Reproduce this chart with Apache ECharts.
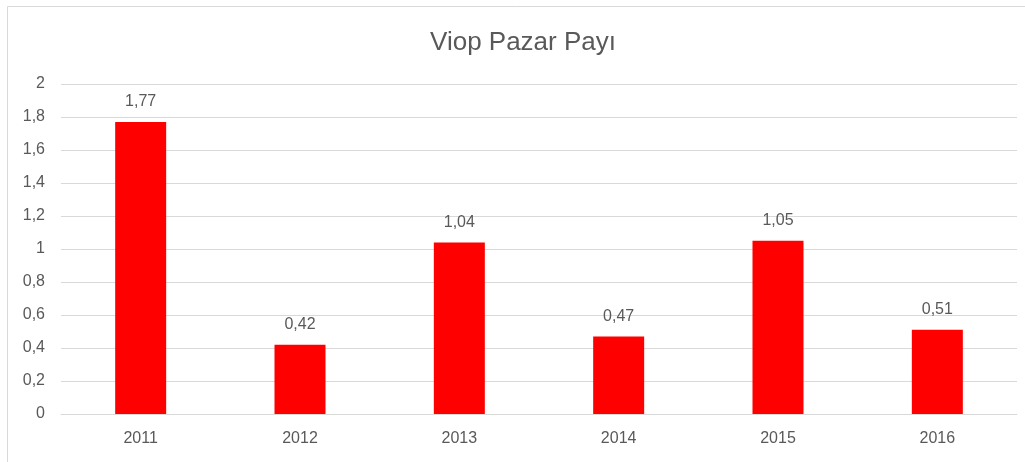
<!DOCTYPE html>
<html><head><meta charset="utf-8">
<script src="https://cdn.jsdelivr.net/npm/echarts@6/dist/echarts.min.js"></script>
<style>html,body{margin:0;padding:0;background:#fff}#c{width:1025px;height:462px}</style>
</head><body><div id="c"></div>
<script>
const title = "Viop Pazar Payı";
const categories = ["2011","2012","2013","2014","2015","2016"];
const values = [1.77, 0.42, 1.04, 0.47, 1.05, 0.51];
const yMin = 0, yMax = 2, yStep = 0.2;
const fmt = v => String(Math.round(v*100)/100).replace('.', ',');
const chart = echarts.init(document.getElementById('c'));
chart.setOption({
  animation:false,
  title:{text:title,left:518,top:25,textAlign:'center',textStyle:{fontFamily:'Liberation Sans',fontSize:26,fontWeight:'normal',color:'#595959'}},
  graphic:[
    {type:'line',shape:{x1:7.5,y1:6.5,x2:1025,y2:6.5},style:{stroke:'#d9d9d9',lineWidth:1}},
    {type:'line',shape:{x1:7.5,y1:6.5,x2:7.5,y2:462},style:{stroke:'#d9d9d9',lineWidth:1}}
  ],
  grid:{left:61,right:8,top:84,bottom:48,containLabel:false},
  xAxis:{type:'category',data:categories,
    axisLine:{lineStyle:{color:'#d9d9d9'}},axisTick:{show:false},
    axisLabel:{color:'#595959',fontFamily:'Liberation Sans',fontSize:16,margin:17}},
  yAxis:{type:'value',min:yMin,max:yMax,interval:yStep,
    axisLine:{show:false},axisTick:{show:false},
    splitLine:{lineStyle:{color:'#d9d9d9'}},
    axisLabel:{color:'#595959',fontFamily:'Liberation Sans',fontSize:16,margin:16,formatter:fmt}},
  series:[{type:'bar',data:values,barWidth:51,itemStyle:{color:'#ff0000'},
    label:{show:true,position:'top',distance:12,color:'#595959',fontFamily:'Liberation Sans',fontSize:16,formatter:p=>fmt(p.value)}}]
});
</script></body></html>
